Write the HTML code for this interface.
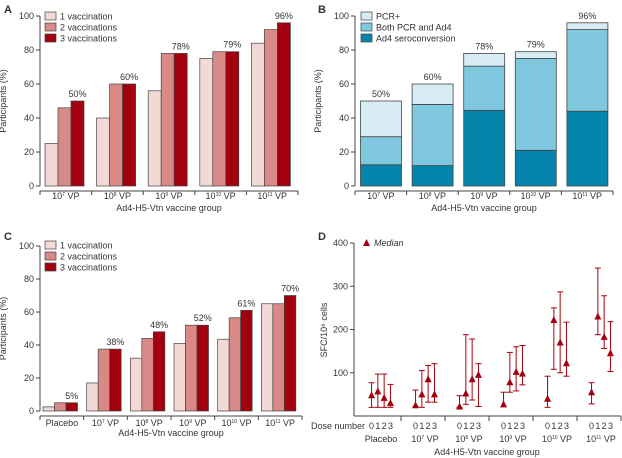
<!DOCTYPE html>
<html><head><meta charset="utf-8"><style>
body{margin:0;background:#fff;}
svg{display:block;font-family:"Liberation Sans",sans-serif;}
text{fill:#333;}
</style></head><body>
<svg id="fig" width="622" height="458" viewBox="0 0 622 458" xmlns="http://www.w3.org/2000/svg"></svg>
<script>
// Panel A data
const aCats=["10^7","10^8","10^9","10^10","10^11"];
const aVac1=[25,40,56,75,84];
const aVac2=[46,60,78,79,92];
const aVac3=[50,60,78,79,96];
const aLabels=["50%","60%","78%","79%","96%"];
// Panel B data
const bSero=[12.5,12,44.5,21,44];
const bBoth=[16.5,36,26,54,48];
const bPcr=[21,12,7.5,4,4];
const bLabels=["50%","60%","78%","79%","96%"];
// Panel C data
const cCats=["Placebo","10^7","10^8","10^9","10^10","10^11"];
const cVac1=[2.5,17,32,41,43.5,65];
const cVac2=[5,37.5,44,52,56.5,65];
const cVac3=[5,37.5,48,52,61,70];
const cLabels=["5%","38%","48%","52%","61%","70%"];
// Panel D data (per group, doses 0..3)
const dCats=["Placebo","10^7","10^8","10^9","10^10","10^11"];
const dMed=[[48,57,42,30],[25,50,85,50],[22,52,85,95],[27,78,102,98],[40,222,170,122],[55,230,183,145]];
const dLow=[[20,20,20,20],[22,20,32,32],[20,27,37,22],[22,55,58,72],[20,108,100,92],[28,188,156,103]];
const dHigh=[[77,97,97,73],[60,105,117,121],[47,188,178,121],[55,147,160,163],[92,250,287,217],[77,342,278,218]];
const yTicks=[0,20,40,60,80,100];
const dTicks=[100,200,300,400];

const svg=document.getElementById('fig');
const NS="http://www.w3.org/2000/svg";
function mk(tag,at,parent){const e=document.createElementNS(NS,tag);for(const k in at)e.setAttribute(k,at[k]);(parent||svg).appendChild(e);return e;}
function txt(x,y,s,size,anchor,parent){const t=mk('text',{x:x,y:y,'font-size':size,'text-anchor':anchor||'middle'},parent);t.textContent=s;return t;}
function vpLabel(parent,x,y,cat,size){
  const t=mk('text',{x:x,y:y,'font-size':size,'text-anchor':'middle'},parent);
  if(cat.startsWith('10^')){const ex=cat.slice(3);
    const a=document.createElementNS(NS,'tspan');a.textContent='10';t.appendChild(a);
    const b=document.createElementNS(NS,'tspan');b.setAttribute('dy','-3');b.setAttribute('font-size','5');b.textContent=ex;t.appendChild(b);
    const c=document.createElementNS(NS,'tspan');c.setAttribute('dy','3');c.textContent=' VP';t.appendChild(c);
  } else t.textContent=cat;
  return t;}
const stroke="#444";

function axesPct(g,x0,x1,yTop,yBot,nGroups,title,ylabelX){
  const ys=v=>yBot-(yBot-yTop)*v/100;
  const ax=mk('line',{x1:x0,y1:yTop,x2:x0,y2:yBot,stroke:stroke,'stroke-width':1},g);
  
  yTicks.forEach(v=>{mk('line',{x1:x0-4,y1:ys(v),x2:x0,y2:ys(v),stroke:stroke},g);
    const t=txt(x0-6,ys(v)+3,String(v),9,'end',g);
    });
  const xa=mk('line',{x1:x0,y1:yBot+5,x2:x1,y2:yBot+5,stroke:stroke},g);
  
  const gw=(x1-x0)/nGroups;
  for(let i=0;i<=nGroups;i++)mk('line',{x1:x0+i*gw,y1:yBot+5,x2:x0+i*gw,y2:yBot+9,stroke:stroke},g);
  const yt=txt(ylabelX,(yTop+yBot)/2,'Participants (%)',9,'middle',g);
  yt.setAttribute('transform','rotate(-90 '+ylabelX+' '+(yTop+yBot)/2+')');
  
  const xt=txt((x0+x1)/2,yBot+25,'Ad4-H5-Vtn vaccine group',9,'middle',g);
  
  return {ys:ys,gw:gw};
}
function legend(g,x,y,items){items.forEach((it,i)=>{
  const r=mk('rect',{x:x,y:y+i*11,width:11,height:8,fill:it[1],stroke:stroke,'stroke-width':0.7},g);
  
  const t=txt(x+15,y+i*11+7.5,it[0],9,'start',g);
  });}

const red=["#f2d9d6","#d98a87","#a3000f"];
const blue=["#0585ac","#7fc8dd","#d7ecf4"];

// Panel A
(function(){const g=mk('g',{});
  const pl=txt(4,13,'A',11,'start',g);pl.setAttribute('font-weight','bold');
  const x0=40,x1=298,yT=16,yB=186;const a=axesPct(g,x0,x1,yT,yB,aCats.length,'',6);
  const series=[aVac1,aVac2,aVac3];const bw=13;
  aCats.forEach((c,i)=>{const gx=x0+i*a.gw+5;
    series.forEach((s,j)=>{const r=mk('rect',{x:gx+j*bw,y:a.ys(s[i]),width:bw,height:yB-a.ys(s[i]),fill:red[j],stroke:stroke,'stroke-width':0.7},g);
      });
    const l=txt(gx+2.5*bw,a.ys(aVac3[i])-4,aLabels[i],9,'middle',g);
    const cl=vpLabel(g,x0+(i+0.5)*a.gw,199,c,9);});
  legend(g,45,12,[['1 vaccination',red[0]],['2 vaccinations',red[1]],['3 vaccinations',red[2]]]);
})();

// Panel B
(function(){const g=mk('g',{});
  const pl=txt(318,13,'B',11,'start',g);pl.setAttribute('font-weight','bold');
  const x0=355,x1=613,yT=16,yB=186;const a=axesPct(g,x0,x1,yT,yB,5,'',321);
  const series=[bSero,bBoth,bPcr];const bw=41;
  aCats.forEach((c,i)=>{const gx=x0+i*a.gw+5.5;let cum=0;
    series.forEach((s,j)=>{const y1=a.ys(cum+s[i]);const y0=a.ys(cum);cum+=s[i];
      const r=mk('rect',{x:gx,y:y1,width:bw,height:y0-y1,fill:blue[j],stroke:stroke,'stroke-width':0.8},g);
      });
    const l=txt(gx+bw/2,a.ys(cum)-4,bLabels[i],9,'middle',g);
    const cl=vpLabel(g,x0+(i+0.5)*a.gw,199,c,9);});
  legend(g,361,12,[['PCR+',blue[2]],['Both PCR and Ad4',blue[1]],['Ad4 seroconversion',blue[0]]]);
})();

// Panel C
(function(){const g=mk('g',{});
  const pl=txt(4,240,'C',11,'start',g);pl.setAttribute('font-weight','bold');
  const x0=40,x1=302,yT=246,yB=411;const a=axesPct(g,x0,x1,yT,yB,cCats.length,'',6);
  const series=[cVac1,cVac2,cVac3];const bw=11.5;
  cCats.forEach((c,i)=>{const gx=x0+i*a.gw+3;
    series.forEach((s,j)=>{const r=mk('rect',{x:gx+j*bw,y:a.ys(s[i]),width:bw,height:yB-a.ys(s[i]),fill:red[j],stroke:stroke,'stroke-width':0.7},g);
      });
    const l=txt(gx+2.5*bw,a.ys(cVac3[i])-4,cLabels[i],9,'middle',g);
    const cl=vpLabel(g,x0+(i+0.5)*a.gw,426,c,9);});
  legend(g,45,241,[['1 vaccination',red[0]],['2 vaccinations',red[1]],['3 vaccinations',red[2]]]);
})();

// Panel D
(function(){const g=mk('g',{});
  const pl=txt(318,240,'D',11,'start',g);pl.setAttribute('font-weight','bold');
  const x0=354,x1=621,yT=243,yB=416;const ys=v=>yB-(yB-yT)*v/400;
  const ax=mk('line',{x1:x0,y1:ys(400),x2:x0,y2:yB,stroke:stroke},g);
  dTicks.forEach(v=>{mk('line',{x1:x0-4,y1:ys(v),x2:x0,y2:ys(v),stroke:stroke},g);
    const t=txt(x0-6,ys(v)+3,String(v),9,'end',g);});
  const xa=mk('line',{x1:x0,y1:yB,x2:x1,y2:yB,stroke:stroke},g);
  const gw=(x1-x0-3)/dCats.length;
  for(let i=1;i<=dCats.length;i++)mk('line',{x1:x0+3+i*gw,y1:yB,x2:x0+3+i*gw,y2:yB+5,stroke:stroke},g);
  const yt=txt(327,330,'SFC/10⁶ cells',9,'middle',g);yt.setAttribute('transform','rotate(-90 327 330)');
  
  const dn=txt(311,429,'Dose number',9,'start',g);
  const col="#a3000f";
  dCats.forEach((c,i)=>{const cx=x0+3+(i+0.5)*gw+2;
    for(let d=0;d<4;d++){const x=cx+(d-1.5)*6.3;
      const el=mk('g',{},g);
      mk('line',{x1:x,y1:ys(dLow[i][d]),x2:x,y2:ys(dHigh[i][d]),stroke:col,'stroke-width':1},el);
      mk('line',{x1:x-3,y1:ys(dLow[i][d]),x2:x+3,y2:ys(dLow[i][d]),stroke:col,'stroke-width':1},el);
      mk('line',{x1:x-3,y1:ys(dHigh[i][d]),x2:x+3,y2:ys(dHigh[i][d]),stroke:col,'stroke-width':1},el);
      const y=ys(dMed[i][d]);
      const p=mk('polygon',{points:(x-3.5)+','+(y+3)+' '+(x+3.5)+','+(y+3)+' '+x+','+(y-4),fill:col},g);
      
      const t=txt(x,429,String(d),9,'middle',g);}
    const cl=vpLabel(g,cx,442,c,9);});
  const xt=txt(487,455,'Ad4-H5-Vtn vaccine group',9,'middle',g);
  const lm=mk('polygon',{points:'363,246 370,246 366.5,239',fill:col},g);
  const lt=txt(374,246,'Median',9,'start',g);lt.setAttribute('font-style','italic');
})();
</script>
</body></html>
